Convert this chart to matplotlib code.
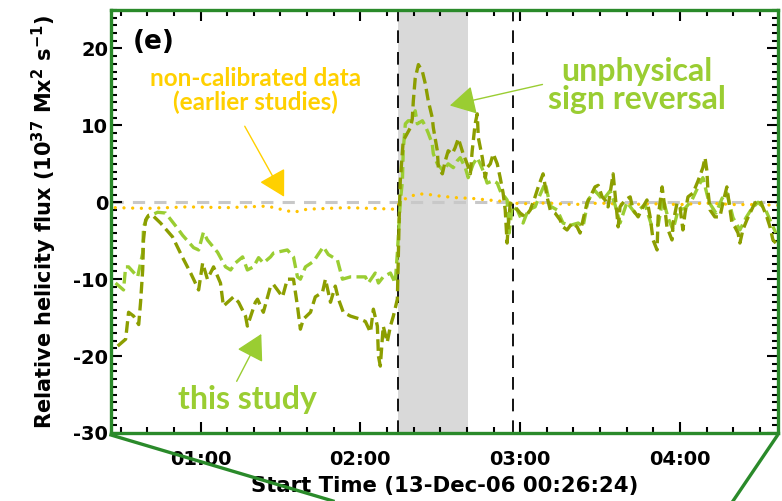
import numpy as np
import matplotlib
matplotlib.use("Agg")
import matplotlib.pyplot as plt
from matplotlib.ticker import MultipleLocator, FixedLocator
from matplotlib.lines import Line2D

# temps en minutes depuis 00:00 (13-Dec-06), flux en 1e37 Mx^2 s^-1
t_dark = [28.9, 31.9, 33.0, 34.9, 36.8, 37.5, 38.3, 38.6, 39.4, 40.5, 42.0, 45.0, 49.5, 53.3,
          56.3, 59.3, 60.8, 62.6, 64.9, 67.5, 68.6, 72.4, 74.3, 76.9, 77.6, 80.6, 81.4, 83.6,
          86.3, 87.4, 90.8, 92.6, 94.9, 96.4, 97.5, 98.6, 101.3, 103.1, 105.8, 106.9, 108.8,
          110.6, 111.8, 113.6, 116.3, 120.0, 121.9, 123.8, 124.9, 126.4, 126.8, 127.5, 128.6,
          130.1, 131.3, 132.4, 133.9, 134.3, 134.6, 135.0, 136.1, 138.8, 139.5, 139.9, 140.6,
          141.8, 143.3, 144.4, 145.5, 147.0, 147.4, 148.9, 149.3, 150.8, 151.9, 153.0, 154.5,
          155.6, 156.8, 158.6, 160.1, 161.3, 162.0, 163.1, 163.9, 164.3, 165.8, 166.9, 167.6,
          168.8, 169.9, 171.4, 172.5, 173.6, 174.4, 175.1, 175.5, 176.3, 178.1, 180.0, 181.9,
          183.8, 185.6, 186.8, 188.6, 190.1, 191.3, 193.1, 195.0, 196.1, 197.6, 199.5, 201.4,
          202.5, 203.6, 205.1, 206.3, 208.1, 209.3, 210.8, 211.9, 213.0, 214.5, 214.9, 215.6,
          216.8, 217.5, 219.4, 221.3, 222.4, 224.3, 226.1, 227.6, 228.8, 229.9, 231.4, 231.8,
          233.3, 234.4, 235.1, 237.0, 237.4, 238.9, 240.0, 241.1, 241.9, 243.0, 244.9, 246.8,
          248.6, 249.4, 250.1, 250.5, 251.3, 253.1, 255.0, 256.1, 257.6, 258.8, 259.5, 260.6,
          261.8, 262.5, 263.6, 265.1, 266.3, 268.1, 270.0, 271.1, 272.6, 273.8, 274.9, 276.0]
f_dark = [-18.7, -17.8, -14.3, -14.8, -15.9, -13.0, -8.8, -4.9, -2.3, -1.7, -1.7, -2.7, -4.5, -7.2,
          -9.2, -11.4, -7.9, -10.0, -8.4, -10.5, -13.5, -12.3, -13.0, -14.8, -16.1, -13.0, -12.6, -14.3,
          -10.9, -10.7, -12.3, -10.0, -10.0, -13.5, -16.5, -15.2, -14.3, -12.3, -11.7, -10.0, -13.0,
          -10.9, -12.6, -14.3, -14.8, -15.2, -15.5, -16.9, -13.9, -16.1, -20.0, -21.3, -16.1,
          -18.2, -16.1, -14.8, -12.6, -6.2, -1.9, 2.8, 8.0, 9.7, 10.8, 13.2, 16.1,
          17.9, 17.0, 15.4, 13.2, 11.0, 9.7, 6.7, 4.5, 3.7, 5.4, 6.7, 6.3,
          7.1, 8.3, 6.3, 5.0, 3.7, 6.7, 10.2, 11.5, 8.4, 5.8, 3.2, 4.5,
          5.0, 6.3, 5.0, 3.2, 1.2, -1.0, -5.3, -3.2, -0.1, -0.6, -1.4, -1.9,
          -1.0, 0.7, 2.0, 3.7, 0.7, -1.0, -1.4, -2.3, -3.2, -3.6, -2.7, -3.2,
          -4.0, -2.3, -0.1, 0.7, 2.0, 2.2, 0.7, 0.3, -0.6, 2.8, 3.7, 1.2,
          -3.2, -0.6, 0.3, 0.7, -1.0, -1.9, -0.6, 0.3, -1.9, -4.9, -6.2, -1.9,
          2.0, -1.0, -3.2, -4.9, -2.7, -0.1, -0.6, -3.6, -1.4, 0.7, 1.2, 2.8,
          4.5, 5.8, 4.1, 1.5, -1.0, -1.9, -1.9, -0.1, 2.0, -1.0, -2.7, -3.2,
          -4.0, -5.3, -3.6, -2.3, -1.4, -0.1, 0.3, -0.6, -1.9, -3.2, -4.9, -5.3]

t_light = [28.1, 31.1, 31.9, 33.0, 36.4, 38.3, 38.6, 40.1, 43.9, 46.9, 51.4, 53.3, 57.4, 59.3,
           61.1, 62.6, 66.4, 69.4, 71.3, 73.1, 75.8, 77.6, 79.9, 81.8, 83.6, 86.3, 87.4, 92.6,
           94.9, 96.4, 97.5, 99.4, 102.4, 106.1, 108.0, 111.4, 113.3, 116.3, 121.9, 123.0, 125.6,
           126.8, 128.6, 131.3, 133.1, 133.9, 135.0, 135.8, 136.1, 136.9, 138.0, 139.5, 140.6,
           141.4, 143.3, 144.4, 145.5, 147.0, 147.4, 148.9, 151.1, 153.0, 154.9, 156.4, 157.5,
           159.4, 160.5, 162.4, 163.9, 165.0, 166.1, 167.6, 169.9, 171.4, 172.5, 175.1, 175.9,
           177.0, 178.9, 181.1, 183.0, 185.6, 187.5, 189.4, 191.3, 193.9, 196.1, 198.8, 201.8,
           203.6, 205.5, 208.1, 211.1, 213.8, 215.6, 217.5, 220.1, 223.1, 226.9, 229.5, 231.8,
           233.6, 235.5, 237.4, 239.3, 241.9, 244.5, 246.8, 248.6, 250.9, 253.5, 255.8, 257.6,
           259.9, 262.5, 264.8, 267.0, 269.3, 271.9, 273.8, 276.0]
f_light = [-10.5, -11.4, -8.4, -8.4, -9.7, -6.6, -3.2, -1.9, -1.3, -1.4, -3.4, -4.3, -5.9, -6.2,
           -3.9, -4.9, -6.5, -8.4, -8.8, -7.9, -7.1, -8.8, -8.4, -7.2, -7.9, -7.1, -6.6, -6.2,
           -7.1, -9.7, -10.0, -8.4, -7.7, -5.8, -6.8, -7.5, -10.0, -9.7, -9.7, -10.5, -9.2,
           -10.5, -9.7, -9.2, -10.5, -6.6, 0.0, 2.8, 6.7, 10.2, 10.6, 10.6, 11.9,
           10.2, 10.6, 9.9, 9.0, 7.6, 6.3, 5.0, 4.1, 5.0, 4.5, 5.4, 5.8,
           4.5, 3.2, 5.0, 5.8, 5.0, 4.1, 2.5, 2.8, 2.5, 1.5, 0.3, -4.0,
           -0.5, -1.0, -2.7, -1.0, -0.6, 1.0, 2.5, -0.5, -1.0, -2.7, -3.0, -2.7,
           -3.2, 0.3, 1.5, 0.3, 1.5, -0.3, -2.7, 0.0, -1.4, -0.3, -3.2, -3.0,
           0.5, -2.0, -3.6, -1.0, -0.8, 0.3, 2.0, 3.2, 0.0, -1.4, 0.5, 1.2,
           -2.0, -3.6, -2.0, -0.8, 0.0, -0.8, -2.3, -4.0]

# données non calibrées (études précédentes)
t_noncal = [28, 40, 55, 70, 85, 95, 100, 115, 125, 133, 135, 138, 142, 146, 150, 156, 162,
            168, 174, 180, 190, 200, 210, 220, 230, 240, 250, 260, 270, 277]
f_noncal = [-0.7, -0.8, -0.6, -0.7, -0.5, -1.3, -0.9, -0.7, -0.8, -0.9, 0.0, 0.7, 1.1, 1.0, 0.8,
            0.6, 0.5, 0.3, 0.1, -0.2, -0.1, -0.3, -0.1, -0.3, -0.2, -0.3, -0.1, -0.3, -0.3, -0.4]

hour_ticks = [60, 120, 180, 240]
hour_labels = ["01:00", "02:00", "03:00", "04:00"]
flare_start, flare_peak, flare_end = 134.3, 160.4, 177.4

c_dark = "#8c9e00"
c_light = "#9acd32"
c_gold = "#ffc400"
c_frame = "#2a8a2a"

plt.rcParams['font.family'] = ['DejaVu Sans']
plt.rcParams['font.weight'] = 'bold'
plt.rcParams['mathtext.default'] = 'bf'
plt.rcParams['axes.unicode_minus'] = False

fig = plt.figure(figsize=(7.82, 5.01), dpi=100)
ax = fig.add_axes([111/782, 1-433/501, 667/782, 423/501])

ax.axvspan(flare_start, flare_peak, color="#d9d9d9", lw=0, zorder=0)
ax.axvline(flare_start, color="k", lw=1.3, ls=(0, (7, 5)), zorder=1)
ax.axvline(flare_end, color="k", lw=1.3, ls=(0, (7, 5)), zorder=1)
ax.axhline(0, color="#c8c8c8", lw=2.2, ls=(0, (4, 3)), zorder=1)

ax.plot(t_noncal, f_noncal, color=c_gold, lw=2.4, ls=(0, (0.01, 2.6)),
        dash_capstyle='round', zorder=2)
ax.plot(t_light, f_light, color=c_light, lw=2.4, ls=(0, (3.5, 1.6)), zorder=3)
ax.plot(t_dark, f_dark, color=c_dark, lw=2.4, ls=(0, (3.5, 1.6)), zorder=4)

ax.set_xlim(26.4, 276.8)
ax.set_ylim(-30, 25)
ax.xaxis.set_major_locator(FixedLocator(hour_ticks))
ax.set_xticklabels(hour_labels)
ax.xaxis.set_minor_locator(MultipleLocator(10))
ax.yaxis.set_major_locator(MultipleLocator(10))
ax.yaxis.set_minor_locator(MultipleLocator(1))
ax.tick_params(which='both', direction='in', top=True, right=True, width=1.5,
               labelsize=14, color='k')
ax.tick_params(which='major', length=8)
ax.tick_params(which='minor', length=4)
ax.tick_params(axis='x', pad=12)
ax.tick_params(axis='y', pad=2)
for s in ax.spines.values():
    s.set_color(c_frame)
    s.set_linewidth(2.4)

ax.set_xlabel("Start Time (13-Dec-06 00:26:24)", fontsize=15.3, fontweight='bold', labelpad=5)
ax.set_ylabel("Relative helicity flux (10$^{37}$ Mx$^2$ s$^{-1}$)", fontsize=15,
              fontweight='bold', labelpad=10)

ax.text(34.5, 20.9, "(e)", fontsize=19, fontweight='bold', va='center', ha='left')

# annotations
ax.text(80.6, 14.5, "non-calibrated data\n(earlier studies)", color="#ffd000",
        fontfamily='Lato', fontsize=17.5, fontweight='bold', ha='center', va='center',
        linespacing=1.05)
ax.annotate("", xy=(91.9, 0.4), xytext=(76.1, 10.2),
            arrowprops=dict(arrowstyle='-|>,head_length=0.8,head_width=0.45',
                            mutation_scale=20, color="#ffd000", lw=1))
ax.text(223.9, 15.2, "unphysical\nsign reversal", color=c_light, fontfamily='Lato',
        fontsize=23, fontweight='bold', ha='center', va='center', linespacing=0.95)
ax.annotate("", xy=(152.6, 12.5), xytext=(189.4, 15.4),
            arrowprops=dict(arrowstyle='-|>,head_length=0.8,head_width=0.45',
                            mutation_scale=20, color=c_light, lw=1))
ax.text(77.6, -25.6, "this study", color=c_light, fontfamily='Lato', fontsize=23,
        fontweight='bold', ha='center', va='center')
ax.annotate("", xy=(83.3, -16.8), xytext=(73.1, -23.6),
            arrowprops=dict(arrowstyle='-|>,head_length=0.8,head_width=0.45',
                            mutation_scale=20, color=c_light, lw=1))

# lignes de zoom vers le panneau suivant
fig.add_artist(Line2D([111/782, 333/782], [1-435/501, 1-501/501], color=c_frame, lw=2.4,
                      transform=fig.transFigure, clip_on=False))
fig.add_artist(Line2D([777/782, 733/782], [1-436/501, 1-501/501], color=c_frame, lw=2.4,
                      transform=fig.transFigure, clip_on=False))

fig.savefig("out.png", dpi=100)
